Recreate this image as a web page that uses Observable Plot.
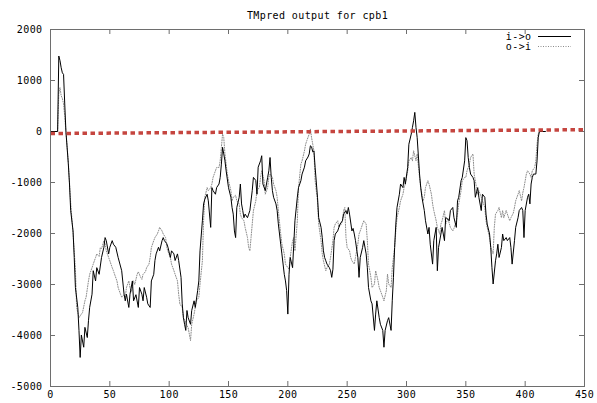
<!DOCTYPE html>
<html><head><meta charset="utf-8">
<script src="https://cdn.jsdelivr.net/npm/d3@7"></script>
<script src="https://cdn.jsdelivr.net/npm/@observablehq/plot@0.6"></script>
<style>
html,body{margin:0;padding:0;background:#fff}
#chart svg{display:block}
</style>
</head><body><div id="chart"></div>
<script>
const title = "TMpred output for cpb1";
const xTicks = [0, 50, 100, 150, 200, 250, 300, 350, 400, 450];
const yTicks = [-5000, -4000, -3000, -2000, -1000, 0, 1000, 2000];
const seriesNames = ["i->o", "o->i"];

// [position, score]
const inToOut = [[0,0],[6,0],[7,1480],[8,1390],[9,1250],[10,1150],[11,1120],[12,540],[13,0],[15,-630],[16,-1030],[17,-1550],[19,-1950],[20,-2470],[21,-3060],[23,-3450],[24,-3900],[25,-4430],[26,-3990],[28,-4230],[29,-3840],[31,-4040],[32,-3710],[33,-3450],[35,-3190],[36,-2730],[38,-2930],[39,-2670],[41,-2800],[43,-2470],[45,-2270],[46,-2080],[47,-2140],[49,-2400],[50,-2270],[52,-2140],[53,-2210],[55,-2270],[57,-2470],[60,-2730],[62,-3190],[63,-3320],[64,-3190],[66,-3450],[67,-3190],[69,-2930],[70,-3320],[72,-3200],[74,-3450],[75,-3060],[77,-3190],[78,-3320],[79,-3060],[81,-3250],[82,-3380],[84,-3450],[85,-2930],[87,-2800],[88,-2530],[89,-2400],[91,-2270],[92,-2340],[94,-2140],[95,-2080],[96,-2140],[98,-2200],[99,-2270],[101,-2470],[102,-2340],[104,-2400],[105,-2530],[107,-2400],[108,-2530],[110,-2860],[111,-3380],[112,-3650],[113,-3780],[114,-3900],[115,-3510],[116,-3650],[118,-3780],[119,-3510],[121,-3320],[122,-3450],[124,-3120],[125,-2930],[126,-2340],[128,-1750],[129,-1420],[130,-1330],[132,-1230],[133,-1360],[135,-1880],[136,-1100],[137,-1160],[139,-1230],[140,-1100],[142,-1030],[143,-900],[144,-640],[145,-310],[146,-440],[147,-575],[148,-770],[150,-1100],[152,-1290],[153,-1490],[154,-1620],[155,-1950],[156,-2080],[157,-1490],[159,-1290],[160,-1030],[161,-1420],[162,-1550],[163,-1690],[164,-1620],[166,-1690],[167,-1620],[168,-1550],[170,-1160],[171,-900],[173,-960],[174,-1230],[175,-700],[177,-575],[178,-475],[179,-1030],[181,-1160],[183,-900],[184,-770],[185,-510],[186,-900],[187,-1160],[188,-1290],[190,-1420],[191,-1550],[192,-1810],[194,-2210],[195,-2400],[197,-2800],[198,-2930],[199,-3120],[200,-3580],[201,-2800],[202,-2470],[204,-2670],[205,-2210],[206,-1750],[208,-1290],[209,-1100],[211,-965],[212,-835],[214,-700],[215,-575],[217,-500],[218,-440],[219,-280],[220,-300],[221,-400],[222,-380],[223,-705],[225,-1290],[226,-1690],[228,-1880],[229,-2080],[230,-2340],[231,-2470],[232,-2535],[233,-2600],[235,-2670],[236,-2730],[237,-2860],[238,-2700],[239,-2140],[240,-2010],[242,-1950],[243,-1880],[244,-1815],[246,-1750],[247,-1620],[249,-1550],[250,-1620],[251,-1490],[252,-1620],[254,-1950],[255,-1900],[256,-2010],[257,-2140],[259,-2470],[260,-2860],[261,-2470],[263,-2275],[264,-2140],[266,-2400],[267,-2670],[268,-3060],[270,-3320],[271,-3380],[273,-3900],[274,-3580],[275,-3320],[277,-3650],[278,-3780],[280,-3900],[281,-4230],[282,-3900],[284,-3710],[285,-3650],[287,-3900],[288,-3320],[289,-2860],[290,-2275],[291,-1815],[292,-1490],[294,-1230],[295,-1030],[297,-1100],[298,-900],[299,-1030],[301,-705],[302,-250],[304,-50],[305,80],[306,210],[307,375],[308,80],[309,-120],[311,-835],[312,-1100],[313,-1290],[315,-1550],[316,-1750],[318,-2010],[319,-1880],[320,-2210],[322,-2600],[323,-2140],[325,-1880],[326,-2730],[327,-2275],[329,-2010],[330,-1880],[332,-2140],[333,-1690],[334,-1700],[336,-1750],[337,-1550],[339,-1490],[340,-1690],[342,-1880],[343,-1360],[344,-1290],[346,-965],[347,-900],[349,-575],[350,-120],[351,-180],[352,-510],[353,-705],[354,-835],[356,-900],[357,-965],[358,-1290],[360,-1100],[361,-1290],[363,-1550],[364,-1230],[366,-1290],[367,-1620],[368,-1815],[370,-2010],[371,-2275],[372,-2670],[373,-2990],[375,-2535],[376,-2400],[377,-2210],[378,-2470],[380,-2275],[381,-2010],[382,-2140],[384,-2080],[385,-2140],[387,-2080],[388,-2275],[389,-2600],[391,-2140],[392,-1880],[394,-1690],[395,-1550],[397,-1490],[398,-1550],[399,-2080],[400,-1550],[402,-1290],[403,-1230],[404,-1420],[405,-1030],[406,-900],[407,-835],[409,-835],[410,-575],[411,-120],[412,0],[417,0]];

const outToIn = [[0,0],[6,0],[7,750],[8,860],[9,700],[10,650],[11,540],[12,300],[13,0],[15,-600],[17,-1400],[19,-2000],[21,-2700],[22,-3450],[24,-3650],[26,-3580],[27,-3550],[29,-3320],[30,-3250],[32,-2930],[33,-2800],[35,-2670],[36,-2600],[38,-2470],[39,-2400],[41,-2450],[42,-2275],[43,-2300],[45,-2140],[46,-2200],[47,-2340],[49,-2470],[50,-2535],[52,-2670],[53,-2730],[54,-2800],[56,-2930],[57,-3060],[59,-3190],[60,-3250],[62,-3200],[63,-3250],[64,-3060],[66,-2930],[67,-3060],[68,-3150],[70,-2930],[71,-3000],[73,-2800],[74,-2750],[76,-2860],[77,-2900],[78,-2800],[80,-2750],[81,-2670],[83,-2600],[84,-2470],[85,-2275],[87,-2140],[88,-2080],[90,-2010],[91,-1950],[92,-1880],[94,-1950],[95,-2010],[97,-2080],[98,-2275],[99,-2350],[101,-2470],[102,-2600],[104,-2730],[105,-2800],[107,-2930],[108,-3190],[109,-3380],[111,-3450],[112,-3650],[114,-3750],[116,-3850],[118,-4100],[119,-3780],[121,-3580],[122,-3450],[123,-3320],[125,-3250],[126,-2990],[128,-2535],[129,-1750],[130,-1290],[132,-1100],[133,-1160],[135,-1100],[136,-1030],[137,-900],[139,-770],[140,-705],[142,-705],[143,-575],[144,-315],[145,-50],[146,-120],[147,-440],[149,-835],[150,-965],[152,-1160],[153,-1360],[154,-1290],[156,-1250],[157,-1360],[159,-1420],[160,-1620],[161,-1690],[163,-1750],[164,-1880],[166,-2080],[167,-2275],[168,-2340],[169,-2080],[170,-1815],[171,-1550],[173,-1360],[174,-1160],[176,-1100],[177,-900],[178,-770],[180,-965],[181,-1230],[183,-1100],[184,-900],[185,-835],[187,-900],[188,-1030],[190,-1160],[191,-1290],[192,-1550],[194,-2010],[195,-2210],[197,-2400],[198,-2600],[200,-2670],[201,-2700],[202,-2470],[204,-2140],[205,-2080],[206,-2340],[208,-1750],[209,-1100],[211,-640],[212,-575],[214,-380],[215,-250],[216,-180],[218,-50],[219,50],[220,-120],[221,-250],[222,-380],[223,-965],[225,-1360],[226,-1815],[228,-2140],[229,-2400],[230,-2535],[232,-2730],[233,-2670],[235,-2600],[236,-2470],[238,-2140],[239,-1880],[240,-1815],[242,-1750],[243,-1880],[245,-1815],[246,-1750],[247,-1550],[248,-1490],[249,-2080],[250,-2275],[252,-2340],[253,-2470],[254,-2535],[256,-2600],[257,-2470],[259,-2210],[260,-2010],[261,-1950],[263,-1815],[264,-1750],[266,-1815],[267,-2140],[268,-2600],[270,-2860],[271,-3060],[273,-2990],[274,-2730],[276,-2930],[277,-3060],[278,-3120],[280,-3250],[281,-3320],[283,-3120],[284,-2800],[285,-2990],[287,-3060],[288,-2670],[290,-2275],[291,-1950],[292,-1690],[294,-1490],[295,-1360],[297,-1230],[298,-1100],[299,-1030],[301,-770],[302,-575],[304,-510],[305,-575],[306,-380],[308,-575],[309,-440],[311,-900],[312,-1100],[314,-1360],[315,-1290],[316,-1100],[318,-965],[319,-1030],[321,-1230],[322,-1420],[323,-1550],[325,-1750],[326,-1880],[328,-2010],[329,-1815],[330,-1750],[332,-1550],[333,-1815],[335,-1700],[336,-1800],[337,-1880],[339,-1950],[340,-1900],[342,-1750],[343,-1620],[344,-1420],[346,-1160],[347,-965],[349,-900],[350,-900],[351,-770],[353,-640],[354,-510],[356,-440],[357,-835],[359,-1100],[360,-1230],[361,-1160],[363,-1290],[364,-1360],[366,-1490],[367,-1750],[368,-1880],[370,-2080],[371,-2275],[373,-2400],[374,-1880],[375,-1620],[377,-1550],[378,-1490],[380,-1690],[381,-1550],[382,-1690],[384,-1550],[385,-1620],[387,-1750],[388,-1690],[390,-1600],[391,-1490],[392,-1360],[394,-1230],[395,-1160],[397,-1360],[398,-1200],[399,-1100],[401,-835],[402,-770],[404,-835],[405,-900],[406,-770],[408,-705],[409,-575],[410,-250],[411,-50],[412,0],[417,0]];

// red dotted reference line, end points [position, score]
const reference = [[0, -40], [450, 35]];

const W = 597, H = 403, mL = 50, mR = 13, mT = 29, mB = 17;
const innerW = W - mL - mR, innerH = H - mT - mB, tick = 5;
const frameColor = "#6e6e6e";
const dotColor = "#8c8c8c";
const font = "'DejaVu Sans Mono', monospace";

const rows = (arr) => arr.map(([p, v]) => ({p, v}));

const svg = Plot.plot({
  width: W, height: H,
  marginLeft: mL, marginRight: mR, marginTop: mT, marginBottom: mB,
  style: {fontFamily: font, fontSize: "10px", background: "#fff", color: "#000", letterSpacing: "0.4px"},
  x: {domain: [0, 450], ticks: xTicks, label: null},
  y: {domain: [-5000, 2000], ticks: yTicks, label: null},
  marks: [
    Plot.axisX(xTicks, {tickSize: 0, tickPadding: 4, tickFormat: d => String(d), fill: "#000", label: null}),
    Plot.axisY(yTicks, {tickSize: 0, tickPadding: 8, tickFormat: d => String(d), fill: "#000", label: null}),
    Plot.tickX(xTicks, {x: d => d, insetTop: innerH - tick, stroke: frameColor}),
    Plot.tickX(xTicks, {x: d => d, insetBottom: innerH - tick, stroke: frameColor}),
    Plot.tickY(yTicks, {y: d => d, insetRight: innerW - tick, stroke: frameColor}),
    Plot.tickY(yTicks, {y: d => d, insetLeft: innerW - tick, stroke: frameColor}),
    Plot.line(rows(outToIn), {x: "p", y: "v", stroke: dotColor, strokeWidth: 1, strokeDasharray: "1,1.5"}),
    Plot.line(rows(inToOut), {x: "p", y: "v", stroke: "#000", strokeWidth: 1}),
    Plot.line(reference, {x: d => d[0], y: d => d[1], stroke: "#c5453f", strokeWidth: 3.5, strokeDasharray: "4.5,3.5", strokeLinecap: "butt"}),
    Plot.frame({stroke: frameColor}),
    Plot.text([title], {frameAnchor: "top", dy: -14, fill: "#000", fontSize: 10, lineAnchor: "middle"}),
    Plot.text([seriesNames[0]], {frameAnchor: "top-right", dx: -53, dy: 7, textAnchor: "end", lineAnchor: "middle", fill: "#000"}),
    Plot.text([seriesNames[1]], {frameAnchor: "top-right", dx: -53, dy: 17.5, textAnchor: "end", lineAnchor: "middle", fill: "#000"})
  ]
});

// legend line samples
const sx1 = W - mR - 46, sx2 = W - mR - 13;
const g = d3.select(svg).append("g");
g.append("line").attr("x1", sx1).attr("x2", sx2).attr("y1", mT + 7.5).attr("y2", mT + 7.5)
  .attr("stroke", "#000").attr("stroke-width", 1);
g.append("line").attr("x1", sx1).attr("x2", sx2).attr("y1", mT + 17.5).attr("y2", mT + 17.5)
  .attr("stroke", dotColor).attr("stroke-width", 1).attr("stroke-dasharray", "1,1.5");

document.getElementById("chart").appendChild(svg);
</script>
</body></html>
